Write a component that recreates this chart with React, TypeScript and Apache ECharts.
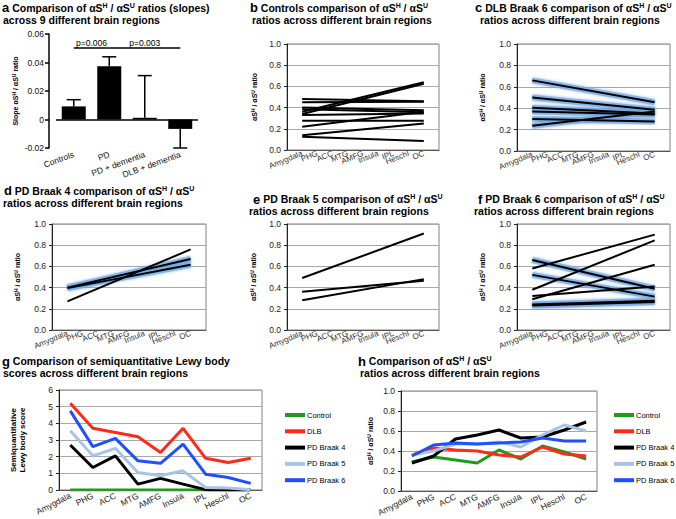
import React, { useEffect, useRef } from 'react';
import * as echarts from 'echarts';

const FONT = '"Liberation Sans", Arial, Helvetica, sans-serif';

// ---------- data ----------
const regions = ['Amygdala', 'PHG', 'ACC', 'MTG', 'AMFG', 'Insula', 'IPL', 'Heschl', 'OC'];

// panel a
const slopeGroups = ['Controls', 'PD', 'PD + dementia', 'DLB + dementia'];
const slopeMeans = [0.0092, 0.0374, 0.0012, -0.0066];
const slopeErrors = [0.0047, 0.0066, 0.0296, 0.0134];
const comparisonPairs = [
  ['Controls', 'PD', 'p=0.006'],
  ['PD', 'DLB + dementia', 'p=0.003'],
];
const bracketLevel = 0.05;

// panels b-f: [ratio at Amygdala, ratio at OC]
const controlsLines = [
  [0.48, 0.46], [0.45, 0.455], [0.40, 0.375], [0.385, 0.355], [0.36, 0.64], [0.34, 0.625],
  [0.33, 0.345], [0.275, 0.275], [0.22, 0.36], [0.14, 0.25], [0.125, 0.085],
];
const dlb6GlowLines = [
  [0.66, 0.455], [0.50, 0.385], [0.405, 0.35], [0.37, 0.34], [0.30, 0.275], [0.235, 0.37],
];
const pd4Lines = [[0.27, 0.76]];
const pd4GlowLines = [[0.40, 0.67], [0.395, 0.615]];
const pd5Lines = [[0.49, 0.91], [0.36, 0.465], [0.28, 0.48]];
const pd6Lines = [[0.58, 0.90], [0.38, 0.845], [0.32, 0.41], [0.29, 0.615]];
const pd6GlowLines = [[0.66, 0.39], [0.52, 0.315], [0.23, 0.265], [0.24, 0.275]];

// panels g-h
const groupNames = ['Control', 'DLB', 'PD Braak 4', 'PD Braak 5', 'PD Braak 6'];
const groupColors = ['#1e9a1e', '#ff2a1a', '#000000', '#a9c3e4', '#1f4fff'];
const lewyControl = [0, 0, 0, 0, 0, 0, 0, 0, 0];
const lewyDLB = [5.2, 3.7, 3.45, 3.2, 2.25, 3.7, 1.9, 1.65, 1.9];
const lewyPD4 = [2.7, 1.35, 2.05, 0.35, 0.7, 0.35, 0.02, 0, 0];
const lewyPD5 = [3.55, 2.05, 2.5, 1.05, 0.85, 1.15, 0.15, 0.12, 0.02];
const lewyPD6 = [4.75, 2.6, 3.1, 1.75, 1.6, 2.75, 0.95, 0.75, 0.4];
const ratioControl = [0.29, 0.34, 0.31, 0.28, 0.41, 0.32, 0.45, 0.39, 0.32];
const ratioDLB = [0.36, 0.43, 0.41, 0.40, 0.36, 0.34, 0.44, 0.37, 0.35];
const ratioPD4 = [0.28, 0.35, 0.52, 0.56, 0.61, 0.53, 0.54, 0.61, 0.69];
const ratioPD5 = [0.36, 0.40, 0.47, 0.47, 0.49, 0.44, 0.56, 0.66, 0.60];
const ratioPD6 = [0.35, 0.46, 0.48, 0.47, 0.48, 0.49, 0.53, 0.50, 0.50];

// ---------- styles ----------
const titleRich = {
  L: { fontSize: 13, fontWeight: 'bold', fontFamily: FONT, color: '#000', lineHeight: 12 },
  T: { fontSize: 10.5, fontWeight: 'bold', fontFamily: FONT, color: '#000', lineHeight: 12 },
  S: { fontSize: 7, fontWeight: 'bold', fontFamily: FONT, color: '#000', verticalAlign: 'top' },
};
const nameRich = {
  n: { fontSize: 7, fontWeight: 'bold', fontFamily: FONT, color: '#000', lineHeight: 9 },
  s: { fontSize: 5, fontWeight: 'bold', fontFamily: FONT, color: '#000', verticalAlign: 'top' },
};
const ratioName = '{n|αS}{s|H}{n| / αS}{s|U}{n| ratio}';
const head = (letter: string, text: string) =>
  `{L|${letter}}{T| ${text} of αS}{S|H}{T| / αS}{S|U}`;
const line2 = '{T|ratios across different brain regions}';

const titleDefs: [number, number, string][] = [
  [2, 1.5, '{L|a}{T| Comparison of αS}{S|H}{T| / αS}{S|U}{T| ratios (slopes)}'],
  [3, 13.5, '{T|across 9 different brain regions}'],
  [250, 1.5, head('b', 'Controls comparison')],
  [252, 13.5, line2],
  [475, 1.5, head('c', 'DLB Braak 6 comparison')],
  [480, 13.5, line2],
  [4, 184.5, head('d', 'PD Braak 4 comparison')],
  [3, 197, line2],
  [253, 193, head('e', 'PD Braak 5 comparison')],
  [249, 205, line2],
  [478, 193, head('f', 'PD Braak 6 comparison')],
  [474, 205, line2],
  [2, 355, '{L|g}{T| Comparison of semiquantitative Lewy body}'],
  [3, 367, '{T|scores across different brain regions}'],
  [358, 355, '{L|h}{T| Comparison of αS}{S|H}{T| / αS}{S|U}'],
  [360, 367, line2],
];

const slopeGrids = [
  { left: 287, top: 44, width: 152, height: 106, gap: 28 },
  { left: 517, top: 44, width: 153, height: 107, gap: 30 },
  { left: 52, top: 224, width: 154, height: 106, gap: 30 },
  { left: 287, top: 224, width: 152, height: 106, gap: 29 },
  { left: 517, top: 224, width: 153, height: 106, gap: 30 },
];
const slopePanels = [
  { lines: controlsLines, glow: [] as number[][] },
  { lines: [] as number[][], glow: dlb6GlowLines },
  { lines: pd4Lines, glow: pd4GlowLines },
  { lines: pd5Lines, glow: [] as number[][] },
  { lines: pd6Lines, glow: pd6GlowLines },
];

function buildOption() {
  const padded = ['', ...regions, ''];
  const first = regions[0];
  const last = regions[regions.length - 1];

  const grid: any[] = [];
  const xAxis: any[] = [];
  const yAxis: any[] = [];
  const series: any[] = [];

  // ---- panel a ----
  grid.push({ left: 56, top: 34, width: 142, height: 114 });
  xAxis.push({
    gridIndex: 0,
    type: 'category',
    data: slopeGroups,
    axisLine: { show: false, onZero: false },
    axisTick: { show: false },
    axisLabel: { rotate: 20, fontSize: 8.5, color: '#111', margin: 6, fontFamily: FONT, interval: 0 },
  });
  yAxis.push({
    gridIndex: 0,
    type: 'value',
    min: -0.02,
    max: 0.06,
    interval: 0.02,
    offset: 7,
    axisLine: { show: true, lineStyle: { color: '#000', width: 1.5 } },
    axisTick: { show: true, length: 4, lineStyle: { color: '#000', width: 1.5 } },
    axisLabel: {
      fontSize: 8.5,
      color: '#111',
      fontFamily: FONT,
      margin: 5,
      formatter: (v: number) => (Math.abs(v) < 1e-9 ? '0' : v.toFixed(2)),
    },
    splitLine: { show: false },
    name: '{n|Slope αS}{s|H}{n| / αS}{s|U}{n| ratio}',
    nameLocation: 'middle',
    nameGap: 29,
    nameTextStyle: { rich: nameRich },
  });
  series.push({
    type: 'bar',
    xAxisIndex: 0,
    yAxisIndex: 0,
    data: slopeMeans,
    barWidth: 24,
    itemStyle: { color: '#000' },
    silent: true,
    markLine: {
      silent: true,
      symbol: 'none',
      animation: false,
      lineStyle: { color: '#000', width: 1.5, type: 'solid' },
      label: {
        show: true,
        position: 'insideMiddleTop',
        formatter: '{b}',
        fontSize: 8.5,
        color: '#000',
        fontFamily: FONT,
        distance: 1,
      },
      data: [
        { yAxis: 0, name: '', label: { show: false } },
        ...comparisonPairs.map(([a, b, p]) => [
          { coord: [a, bracketLevel], name: p },
          { coord: [b, bracketLevel] },
        ]),
      ],
    },
  });
  series.push({
    type: 'custom',
    xAxisIndex: 0,
    yAxisIndex: 0,
    silent: true,
    z: 5,
    data: slopeMeans.map((m, i) => [i, m, slopeErrors[i]]),
    renderItem: (_p: any, api: any) => {
      const i = api.value(0);
      const m = api.value(1);
      const e = api.value(2);
      const end = m >= 0 ? m + e : m - e;
      const p0 = api.coord([i, m]);
      const p1 = api.coord([i, end]);
      const hw = 7;
      return {
        type: 'group',
        children: [
          { type: 'line', shape: { x1: p0[0], y1: p0[1], x2: p1[0], y2: p1[1] }, style: { stroke: '#000', lineWidth: 1.5 } },
          { type: 'line', shape: { x1: p1[0] - hw, y1: p1[1], x2: p1[0] + hw, y2: p1[1] }, style: { stroke: '#000', lineWidth: 1.5 } },
        ],
      };
    },
  });

  // ---- panels b-f ----
  slopeGrids.forEach((g, k) => {
    const gi = k + 1;
    grid.push({ left: g.left, top: g.top, width: g.width, height: g.height, show: true, borderColor: '#808080', borderWidth: 1 });
    xAxis.push({
      gridIndex: gi,
      type: 'category',
      data: padded,
      boundaryGap: false,
      axisLine: { show: true, lineStyle: { color: '#555', width: 1 } },
      axisTick: { show: false },
      axisLabel: { interval: 0, rotate: 22, fontSize: 8, color: '#333', margin: 3, fontFamily: FONT },
      splitLine: { show: false },
    });
    yAxis.push({
      gridIndex: gi,
      type: 'value',
      min: 0,
      max: 1,
      interval: 0.2,
      axisLine: { show: true, lineStyle: { color: '#222', width: 1 } },
      axisTick: { show: true, length: 3, lineStyle: { color: '#222' } },
      axisLabel: { fontSize: 8.5, color: '#222', margin: 6, fontFamily: FONT, formatter: (v: number) => v.toFixed(1) },
      splitLine: { show: true, lineStyle: { color: '#a8a8a8', width: 1 } },
      name: ratioName,
      nameLocation: 'middle',
      nameGap: g.gap,
      nameTextStyle: { rich: nameRich },
    });
    const panel = slopePanels[k];
    panel.glow.forEach((pr) => {
      series.push({
        type: 'line', xAxisIndex: gi, yAxisIndex: gi, silent: true, symbol: 'none', z: 2,
        data: [[first, pr[0]], [last, pr[1]]],
        lineStyle: { color: 'rgba(120,172,226,0.75)', width: 6, shadowColor: 'rgba(90,150,220,0.8)', shadowBlur: 3 },
      });
    });
    [...panel.lines, ...panel.glow].forEach((pr) => {
      series.push({
        type: 'line', xAxisIndex: gi, yAxisIndex: gi, silent: true, symbol: 'none', z: 3,
        data: [[first, pr[0]], [last, pr[1]]],
        lineStyle: { color: '#000', width: 2 },
      });
    });
  });

  // ---- panels g, h ----
  const bottomPanels = [
    { grid: { left: 59, top: 390, width: 203, height: 100 }, max: 6, interval: 1, fmt: (v: number) => String(v),
      name: 'Semiquantitative\nLewy body score', gap: 32, rich: false, data: [lewyControl, lewyDLB, lewyPD4, lewyPD5, lewyPD6] },
    { grid: { left: 401, top: 391, width: 196, height: 100 }, max: 1, interval: 0.2, fmt: (v: number) => v.toFixed(1),
      name: ratioName, gap: 26, rich: true, data: [ratioControl, ratioDLB, ratioPD4, ratioPD5, ratioPD6] },
  ];
  bottomPanels.forEach((p, k) => {
    const gi = 6 + k;
    grid.push({ ...p.grid, show: true, borderColor: '#808080', borderWidth: 1 });
    xAxis.push({
      gridIndex: gi,
      type: 'category',
      data: regions,
      boundaryGap: true,
      axisLine: { show: true, lineStyle: { color: '#555', width: 1 } },
      axisTick: { show: false },
      axisLabel: { interval: 0, rotate: 27, fontSize: 8.5, color: '#222', margin: 5, fontFamily: FONT },
    });
    yAxis.push({
      gridIndex: gi,
      type: 'value',
      min: 0,
      max: p.max,
      interval: p.interval,
      axisLine: { show: true, lineStyle: { color: '#222', width: 1 } },
      axisTick: { show: true, length: 3, lineStyle: { color: '#222' } },
      axisLabel: { fontSize: 8.5, color: '#222', margin: 6, fontFamily: FONT, formatter: p.fmt },
      splitLine: { show: true, lineStyle: { color: '#a8a8a8', width: 1 } },
      name: p.name,
      nameLocation: 'middle',
      nameGap: p.gap,
      nameTextStyle: p.rich
        ? { rich: nameRich }
        : { fontSize: 8, fontWeight: 'bold', fontFamily: FONT, color: '#000', lineHeight: 9 },
    });
    groupNames.forEach((nm, j) => {
      series.push({
        type: 'line', name: nm, xAxisIndex: gi, yAxisIndex: gi, silent: true, symbol: 'none', z: 3,
        data: p.data[j],
        itemStyle: { color: groupColors[j] },
        lineStyle: { color: groupColors[j], width: 3 },
      });
    });
  });

  const legendBase = {
    orient: 'vertical',
    data: groupNames,
    icon: 'rect',
    itemWidth: 20,
    itemHeight: 4,
    itemGap: 6.3,
    padding: 0,
    selectedMode: false,
    textStyle: { fontSize: 7.5, fontFamily: FONT, color: '#000', lineHeight: 10, padding: [0, 0, 0, -3] },
  };

  return {
    animation: false,
    backgroundColor: '#ffffff',
    textStyle: { fontFamily: FONT },
    title: titleDefs.map(([left, top, text]) => ({
      left, top, text, padding: 0,
      textStyle: { rich: titleRich, fontFamily: FONT },
    })),
    legend: [
      { ...legendBase, left: 285, top: 410 },
      { ...legendBase, left: 614, top: 410 },
    ],
    grid,
    xAxis,
    yAxis,
    series,
  };
}

export default function App() {
  const ref = useRef<HTMLDivElement>(null);
  useEffect(() => {
    if (!ref.current) return;
    const chart = echarts.init(ref.current, undefined, { renderer: 'svg' });
    chart.setOption(buildOption() as any);
    return () => chart.dispose();
  }, []);
  return (
    <div
      ref={ref}
      style={{ position: 'absolute', left: 0, top: 0, width: 676, height: 519, background: '#fff' }}
    />
  );
}
